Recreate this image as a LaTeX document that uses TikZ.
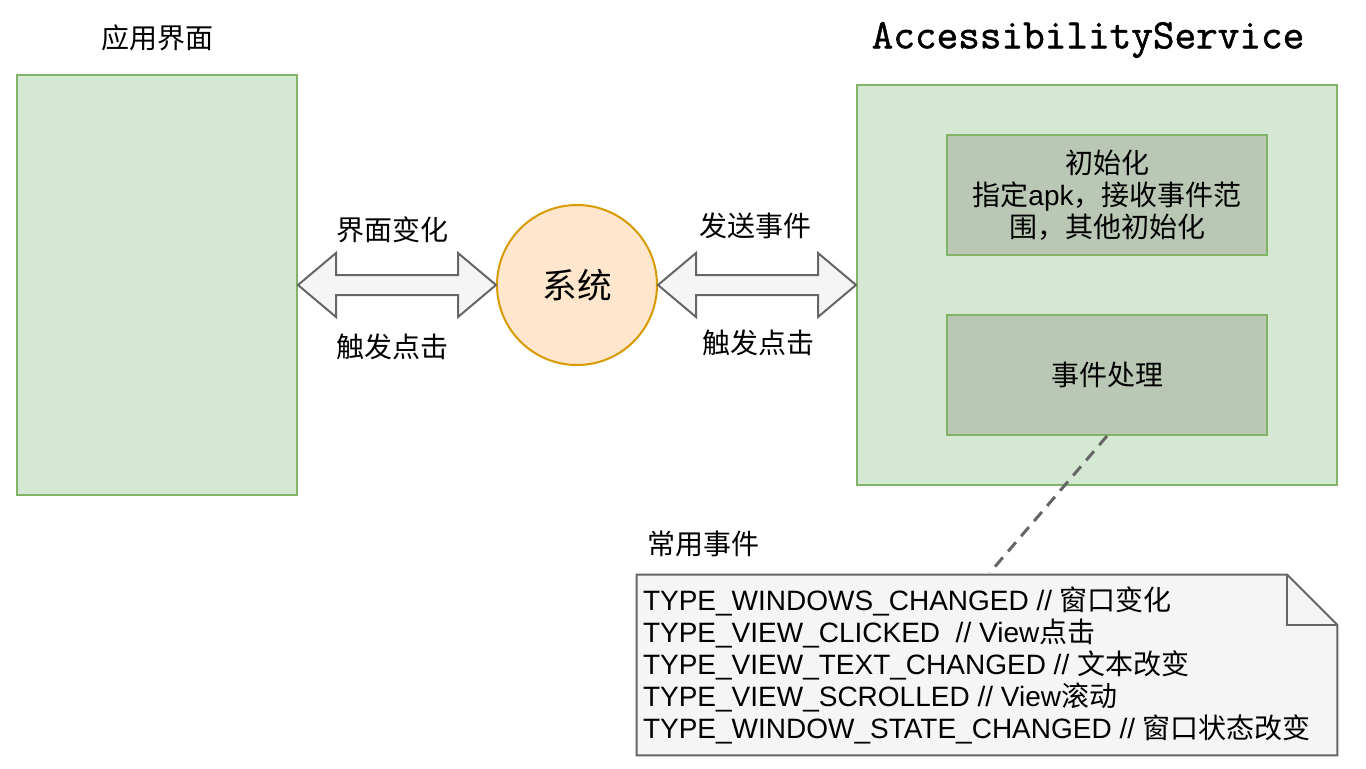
\documentclass[tikz,border=0pt]{standalone}
\usepackage{fontspec}
\setmainfont{Liberation Sans}
\newfontfamily\cjk{Noto Sans CJK SC}
\newfontfamily\codefont[FakeBold=1.2]{Latin Modern Mono}
\usetikzlibrary{calc,positioning}
\definecolor{panelfill}{HTML}{D5E8D4}
\definecolor{panelline}{HTML}{82B366}
\definecolor{subfill}{RGB}{187,199,181}
\definecolor{sysfill}{HTML}{FFE6CC}
\definecolor{sysline}{HTML}{D79B00}
\definecolor{greyfill}{HTML}{F5F5F5}
\definecolor{greyline}{HTML}{666666}

\begin{document}
\begin{tikzpicture}[x=0.75pt, y=-0.75pt,
    font=\fontsize{21pt}{24pt}\selectfont,
    panel/.style={rectangle, draw=panelline, fill=panelfill, line width=1.5pt},
    subpanel/.style={rectangle, draw=panelline, fill=subfill, line width=1.5pt,
      minimum width=240pt, minimum height=90pt, align=center},
    flexarrow/.style={draw=greyline, fill=greyfill, line width=1.5pt, line join=miter},
    cjklabel/.style={font=\fontsize{21pt}{24pt}\selectfont\cjk}]

    \useasboundingbox (0,0) rectangle (1366,768);

    % left side
    \node[cjklabel] (apptitle) at (157,38) {应用界面};
    \node[panel, minimum width=210pt, minimum height=315pt] (app) at (157,285) {};

    % system in the middle
    \node[circle, draw=sysline, fill=sysfill, line width=1.5pt, minimum size=120pt,
      font=\fontsize{26pt}{28pt}\selectfont\cjk] (sys) at (577,285) {系统};

    % accessibility service
    \node[font=\fontsize{31.5pt}{32pt}\selectfont\codefont] (svctitle) at (1088,40) {AccessibilityService};
    \node[panel, minimum width=360pt, minimum height=300pt] (svc) at (1097,285) {};
    \node[subpanel] (init) at (1107,195)
      {{\cjk 初始化}\\{\cjk 指定}apk{\cjk ，接收事件范}\\{\cjk 围，其他初始化}};
    \node[subpanel, font=\fontsize{21pt}{24pt}\selectfont\cjk] (handle) at (1107,375) {事件处理};

    % double arrows
    \draw[flexarrow] (app.east) -- ++(38,-32) -- ++(0,22) -- ($(sys.west)+(-38,-10)$)
      -- ++(0,-22) -- (sys.west) -- ++(-38,32) -- ++(0,-22) -- ($(app.east)+(38,10)$)
      -- ++(0,22) -- cycle;
    \draw[flexarrow] (sys.east) -- ++(38,-32) -- ++(0,22) -- ($(svc.west)+(-38,-10)$)
      -- ++(0,-22) -- (svc.west) -- ++(-38,32) -- ++(0,-22) -- ($(sys.east)+(38,10)$)
      -- ++(0,22) -- cycle;

    \node[cjklabel] (uichange) at (392,230) {界面变化};
    \node[cjklabel] (clickleft) at (392,347) {触发点击};
    \node[cjklabel] (sendevent) at (755,226) {发送事件};
    \node[cjklabel] (clickright) at (758,343) {触发点击};

    % note with common events
    \node[cjklabel] (commonlabel) at (703,544) {常用事件};
    \node[minimum width=525pt, minimum height=135pt, inner sep=0pt] (note) at (987,665) {};
    \draw[draw=greyline, fill=greyfill, line width=1.5pt]
      (note.north west) -- ($(note.north east)+(-50,0)$) -- ($(note.north east)+(0,50)$)
      -- (note.south east) -- (note.south west) -- cycle;
    \draw[greyline, line width=1.5pt] ($(note.north east)+(-50,0)$) -- ($(note.north east)+(-50,50)$)
      -- ($(note.north east)+(0,50)$);
    \node[anchor=west, align=left, inner sep=0pt] (eventlist) at ($(note.west)+(6,0)$)
      {TYPE\_WINDOWS\_CHANGED // {\cjk 窗口变化}\\
       TYPE\_VIEW\_CLICKED~ // View{\cjk 点击}\\
       TYPE\_VIEW\_TEXT\_CHANGED // {\cjk 文本改变}\\
       TYPE\_VIEW\_SCROLLED // View{\cjk 滚动}\\
       TYPE\_WINDOW\_STATE\_CHANGED // {\cjk 窗口状态改变}};

    \coordinate (notetop) at ($(note.north west)+(353,-2)$);
    \draw[greyline, line width=2.25pt, dash pattern=on 9pt off 6pt] (handle.south) -- (notetop);
\end{tikzpicture}
\end{document}
